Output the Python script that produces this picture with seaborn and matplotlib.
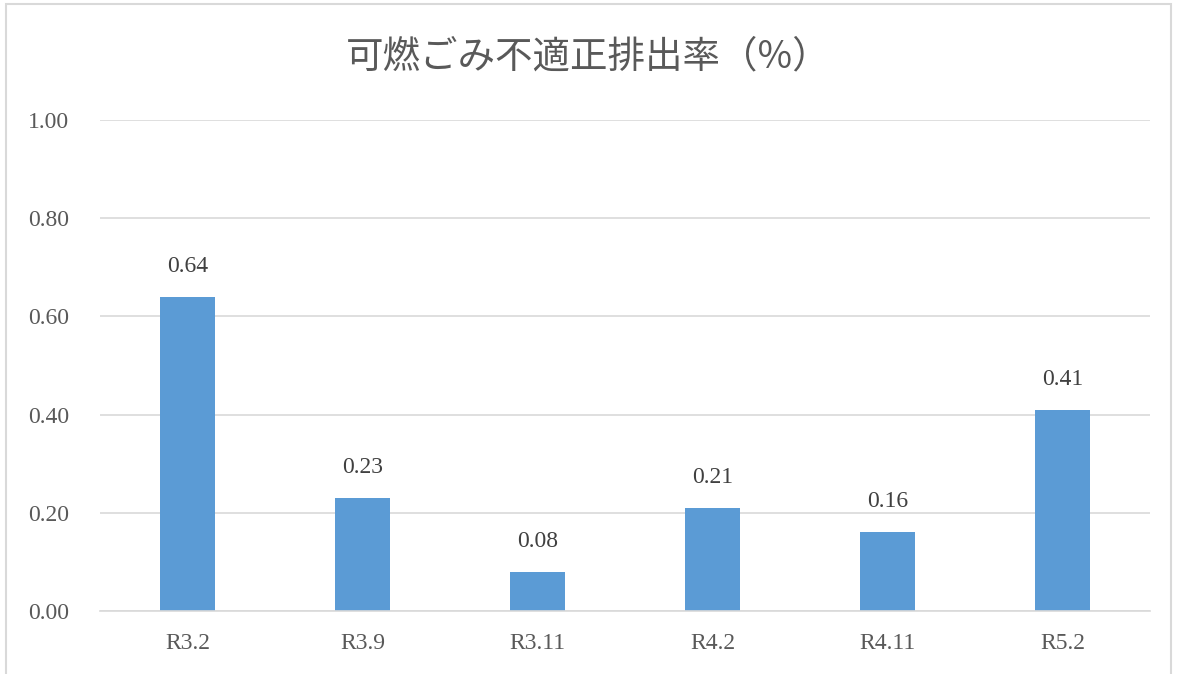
import matplotlib
matplotlib.use("Agg")
import matplotlib.pyplot as plt
import seaborn as sns
import pandas as pd
from matplotlib.patches import Rectangle

categories = ["R3.2", "R3.9", "R3.11", "R4.2", "R4.11", "R5.2"]
values = [0.64, 0.23, 0.08, 0.21, 0.16, 0.41]
yticks = [0.0, 0.2, 0.4, 0.6, 0.8, 1.0]
title = "可燃ごみ不適正排出率（%）"

sns.set_theme(style="white")
plt.rcParams['font.family'] = ['Liberation Serif', 'Noto Sans CJK JP', 'DejaVu Sans']

df = pd.DataFrame({"cat": categories, "val": values})
fig = plt.figure(figsize=(11.78, 6.74), dpi=100)
ax = fig.add_axes([100/1178, 63/674, 1050/1178, 491/674])

sns.barplot(data=df, x="cat", y="val", ax=ax, color="#5B9BD5", width=0.31,
            saturation=1, edgecolor="none")

ax.set_ylim(0, 1.0)
ax.set_xlim(-0.5, len(categories) - 0.5)
ax.set_yticks(yticks)
ax.set_yticklabels([f"{t:.2f}" for t in yticks])
ax.yaxis.grid(True, color="#D9D9D9", linewidth=1.2)
ax.set_axisbelow(True)
for s in ["top", "right", "left"]:
    ax.spines[s].set_visible(False)
ax.spines["bottom"].set_color("#D9D9D9")
ax.spines["bottom"].set_linewidth(1.2)
ax.tick_params(axis="both", length=0, labelsize=17, colors="#595959")
ax.tick_params(axis="y", pad=22)
ax.tick_params(axis="x", pad=16)
ax.set_xlabel("")
ax.set_ylabel("")

for i, v in enumerate(values):
    ax.annotate(f"{v:.2f}", (i, v), xytext=(0, 22), textcoords="offset points",
                ha="center", va="center", fontsize=17, color="#404040")

fig.text(588/1178, 1 - 57/674, title, ha="center", va="center", fontsize=27,
         color="#595959", family=['Noto Sans CJK JP', 'DejaVu Sans'])

fig.patches.append(Rectangle((6/1178, -0.01), 1165/1178, 1 - 4/674 + 0.01,
                             transform=fig.transFigure, fill=False,
                             edgecolor="#D9D9D9", linewidth=1.5))

fig.savefig("out.png", dpi=100)
